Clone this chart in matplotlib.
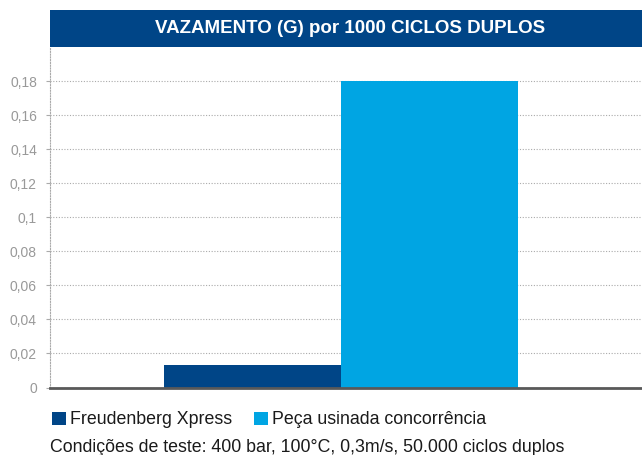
import matplotlib
matplotlib.use("Agg")
import matplotlib.pyplot as plt
from matplotlib.patches import Rectangle

plt.rcParams['font.family'] = ['Liberation Sans', 'DejaVu Sans']

title = "VAZAMENTO (G) por 1000 CICLOS DUPLOS"
series = ["Freudenberg Xpress", "Peça usinada concorrência"]
values = [0.013, 0.18]
colors = ["#004587", "#00A5E3"]
yticks = [0, 0.02, 0.04, 0.06, 0.08, 0.1, 0.12, 0.14, 0.16, 0.18]
ytick_labels = ["0", "0,02", "0,04", "0,06", "0,08", "0,1", "0,12", "0,14", "0,16", "0,18"]
footnote = "Condições de teste: 400 bar, 100°C, 0,3m/s, 50.000 ciclos duplos"

W, H = 642, 455
fig = plt.figure(figsize=(W / 100, H / 100), dpi=100)

x0 = 49.5
ax = fig.add_axes([x0 / W, (H - 387.5) / H, (W - x0) / W, (387.5 - 47) / H])
bw = 0.3
offsets = [-bw / 2, bw / 2]
bars = []
for v, c, off, lab in zip(values, colors, offsets, series):
    b = ax.bar(off, v, width=bw, color=c, label=lab, zorder=3)
    bars.append(b)

ax.set_xlim((x0 - 341) / 590, (642 - 341) / 590)
ax.set_ylim(0, 0.2)
ax.set_yticks(yticks)
ax.set_yticklabels(ytick_labels)
ax.set_xticks([])
ax.tick_params(axis='y', length=3, color='#aaaaaa', labelcolor='#999999', labelsize=10, pad=6, direction='out')
ax.yaxis.grid(True, linestyle=(0, (1, 1.5)), color='#aaaaaa', linewidth=0.8, zorder=0)
for s in ['top', 'right']:
    ax.spines[s].set_visible(False)
ax.spines['left'].set_linestyle((0, (1, 1.5)))
ax.spines['left'].set_color('#aaaaaa')
ax.spines['left'].set_linewidth(0.8)
ax.spines['bottom'].set_color('#595959')
ax.spines['bottom'].set_linewidth(2)
ax.spines['bottom'].set_zorder(4)

# title banner
fig.patches.append(Rectangle((x0 / W, (H - 47) / H), (W - x0) / W, 37 / H,
                             transform=fig.transFigure, facecolor="#004587", edgecolor='none'))
fig.text(350 / W, (H - 28.5) / H, title, color='white', fontsize=13.5, fontweight='bold',
         ha='center', va='center')

fig.legend(handles=[b for b in bars], labels=series, loc='center left',
           bbox_to_anchor=(52 / W, (H - 420) / H), ncol=2, frameon=False,
           handlelength=0.76, handleheight=0.76, handletextpad=0.25, columnspacing=1.25,
           fontsize=12.8, borderaxespad=0, borderpad=0, labelcolor='#1a1a1a')
fig.text(50 / W, (H - 447) / H, footnote, fontsize=12.8, ha='left', va='center', color='#1a1a1a')

fig.savefig("out.png", dpi=100)
